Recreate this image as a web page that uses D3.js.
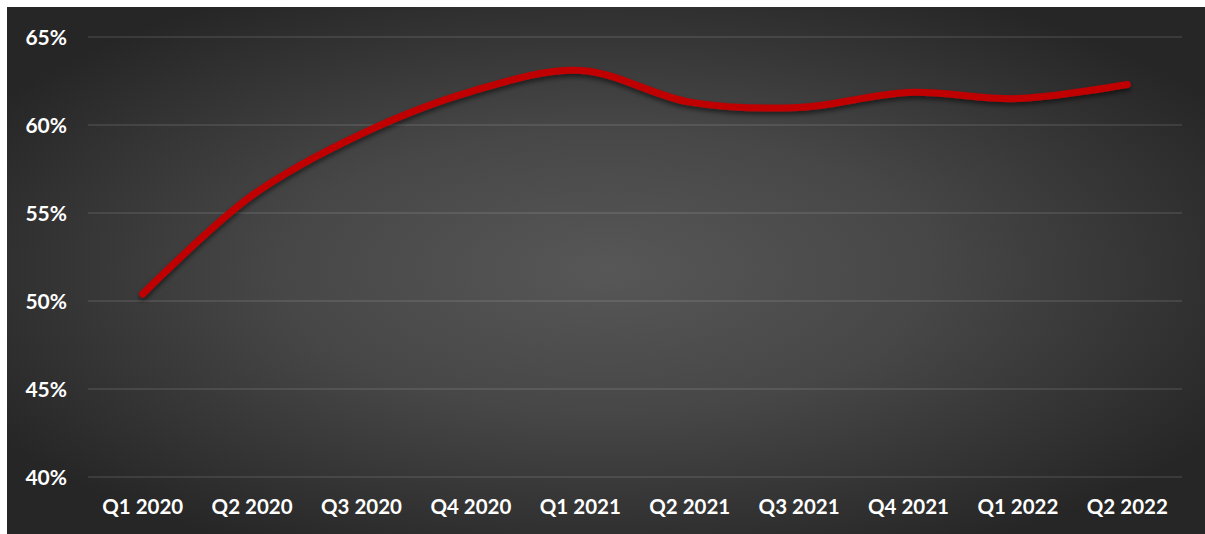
<!DOCTYPE html>
<html>
<head>
<meta charset="utf-8">
<script src="https://cdn.jsdelivr.net/npm/d3@7"></script>
<style>
  html, body { margin: 0; padding: 0; background: #ffffff; }
  svg { display: block; }
  .tick text { font-family: Lato, "Open Sans", sans-serif; font-weight: 700; }
</style>
</head>
<body>
<div id="chart"></div>
<script>
// Quarterly share, in percent
const quarters = ["Q1 2020", "Q2 2020", "Q3 2020", "Q4 2020", "Q1 2021",
                  "Q2 2021", "Q3 2021", "Q4 2021", "Q1 2022", "Q2 2022"];
const shareValues = [50.4, 56.0, 59.5, 61.9, 63.1, 61.3, 61.0, 61.85, 61.5, 62.3];
const yTickValues = [40, 45, 50, 55, 60, 65];

const width = 1205, height = 534;
const plot = { left: 88, right: 1182, top: 37, bottom: 477 };

const svg = d3.select("#chart").append("svg")
  .attr("width", width)
  .attr("height", height);

const defs = svg.append("defs");

// Dark panel with a soft lighter centre
const bg = defs.append("radialGradient")
  .attr("id", "panelGradient")
  .attr("cx", "50%").attr("cy", "50%").attr("r", "60%")
  .attr("gradientUnits", "objectBoundingBox");
bg.append("stop").attr("offset", "0%").attr("stop-color", "#575757");
bg.append("stop").attr("offset", "45%").attr("stop-color", "#474747");
bg.append("stop").attr("offset", "100%").attr("stop-color", "#262626");

// Shadow under the line
const shadow = defs.append("filter")
  .attr("id", "lineShadow")
  .attr("x", "-5%").attr("y", "-20%").attr("width", "110%").attr("height", "140%");
shadow.append("feDropShadow")
  .attr("dx", 0).attr("dy", 3)
  .attr("stdDeviation", 2.5)
  .attr("flood-color", "#000000")
  .attr("flood-opacity", 0.55);

svg.append("rect")
  .attr("x", 7).attr("y", 7)
  .attr("width", width - 7).attr("height", height - 7)
  .attr("fill", "url(#panelGradient)");

const x = d3.scaleBand()
  .domain(quarters)
  .range([plot.left, plot.right]);

const y = d3.scaleLinear()
  .domain([40, 65])
  .range([plot.bottom, plot.top]);

// Horizontal gridlines
svg.append("g")
  .selectAll("line")
  .data(yTickValues)
  .join("line")
  .attr("x1", plot.left).attr("x2", plot.right)
  .attr("y1", d => y(d)).attr("y2", d => y(d))
  .attr("stroke", "rgba(255,255,255,0.13)")
  .attr("stroke-width", 1.6);

// Y axis labels
const yAxis = svg.append("g")
  .attr("transform", `translate(${plot.left - 21},0)`)
  .call(d3.axisLeft(y).tickValues(yTickValues).tickFormat(d => d + "%").tickSize(0).tickPadding(0));
yAxis.select(".domain").remove();
yAxis.selectAll("text")
  .attr("fill", "#ffffff")
  .attr("font-size", 21)
  .attr("dy", "0.35em");

// X axis labels
const xAxis = svg.append("g")
  .attr("transform", `translate(0,${plot.bottom})`)
  .call(d3.axisBottom(x).tickSize(0).tickPadding(22));
xAxis.select(".domain").remove();
xAxis.selectAll("text")
  .attr("fill", "#ffffff")
  .attr("font-size", 20.5);

// Smoothed share line
const line = d3.line()
  .x((d, i) => x(quarters[i]) + x.bandwidth() / 2)
  .y(d => y(d))
  .curve(d3.curveCatmullRom.alpha(0.5));

svg.append("path")
  .datum(shareValues)
  .attr("d", line)
  .attr("fill", "none")
  .attr("stroke", "#c00000")
  .attr("stroke-width", 7)
  .attr("stroke-linecap", "round")
  .attr("stroke-linejoin", "round")
  .attr("filter", "url(#lineShadow)");
</script>
</body>
</html>
